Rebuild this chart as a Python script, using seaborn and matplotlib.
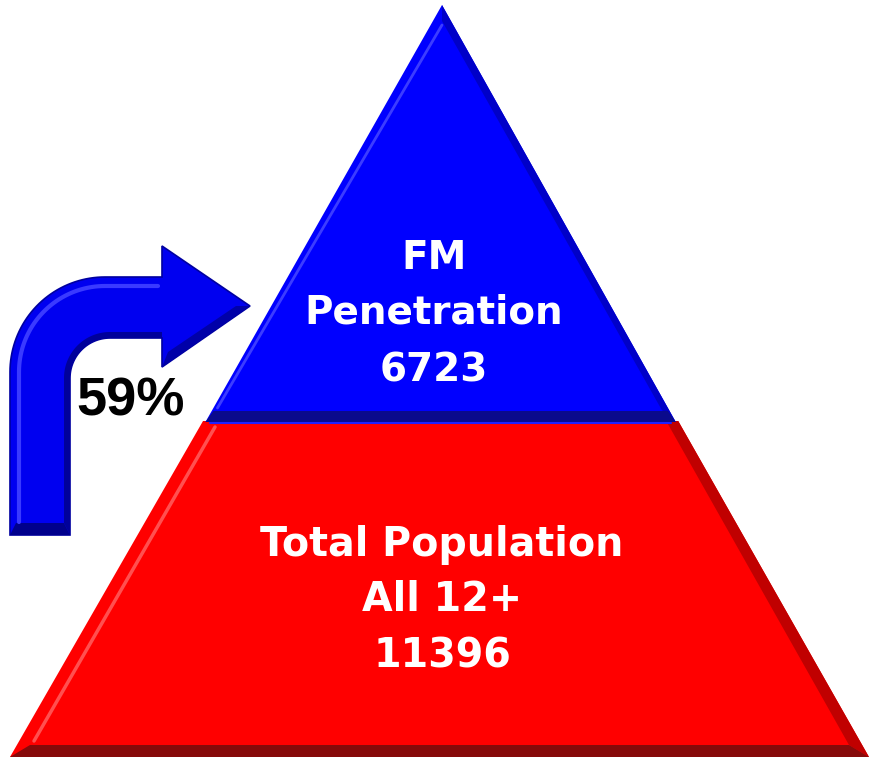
import numpy as np
import matplotlib
matplotlib.use("Agg")
import matplotlib.pyplot as plt
from matplotlib.patches import Polygon
import seaborn as sns

# Data shown on the pyramid
top_lines = ["FM", "Penetration"]
bottom_lines = ["Total Population", "All 12+"]
counts = [6723, 11396]
share_label = "59%"
level_colors = ["#0000ff", "#ff0000"]
shade_colors = ["#0a0a8c", "#860a0a"]

sns.set_theme(style="white")
plt.rcParams["font.family"] = ["DejaVu Sans"]

W, H = 869, 757
fig = plt.figure(figsize=(W / 100, H / 100), dpi=100)
ax = fig.add_axes([0, 0, 1, 1])
ax.set_xlim(0, W)
ax.set_ylim(H, 0)
ax.axis("off")

# Pyramid layout (pixel space)
apex_x, apex_y = 442, 5
split_y = 422
base_y = 757
base_left, base_right = 10, 869


def edge_x(y, side):
    # x on left/right edge of pyramid at height y
    end = base_left if side == "l" else base_right
    return apex_x + (end - apex_x) * (y - apex_y) / (base_y - apex_y)


# bottom trapezoid (red), drawn first so the blue sits on top
low_top = split_y - 1
bot = [(edge_x(low_top, "l"), low_top), (edge_x(low_top, "r"), low_top), (base_right, base_y), (base_left, base_y)]
ax.add_patch(Polygon(bot, closed=True, fc=level_colors[1], ec="none"))
ax.add_patch(Polygon([(bot[1][0], low_top), (base_right, base_y), (base_right - 20, base_y - 12), (bot[1][0] - 12, low_top)],
                     closed=True, fc="#c00000", ec="none"))
ax.add_patch(Polygon([(base_left, base_y), (base_right, base_y), (base_right - 20, base_y - 12), (base_left + 20, base_y - 12)],
                     closed=True, fc=shade_colors[1], ec="none"))
ax.plot([bot[0][0] + 12, base_left + 24], [low_top + 6, base_y - 16], color="#ff5050", lw=2.5, solid_capstyle="round")

# top triangle (blue)
top = [(apex_x, apex_y), (edge_x(split_y, "r") - 3, split_y), (edge_x(split_y, "l") + 3, split_y)]
ax.add_patch(Polygon(top, closed=True, fc=level_colors[0], ec="none"))
ax.add_patch(Polygon([(apex_x, apex_y), (top[1][0], split_y), (top[1][0] - 14, split_y - 12), (apex_x, apex_y + 16)],
                     closed=True, fc="#0000c8", ec="none"))
band = 11
ax.add_patch(Polygon([(top[2][0], split_y), (top[1][0], split_y),
                      (top[1][0] - 8, split_y - band), (top[2][0] + 8, split_y - band)],
                     closed=True, fc=shade_colors[0], ec="none"))
ax.plot([top[2][0] + 5, top[1][0] - 5], [split_y + 0.5, split_y + 0.5], color="#2020ff", lw=1.5)
ax.plot([top[2][0] + 12, apex_x], [split_y - 14, apex_y + 20], color="#3c3cff", lw=2, solid_capstyle="round")

# curved arrow
t = np.linspace(0, np.pi / 2, 40)
outer = np.column_stack([105 - 95 * np.cos(t), 372 - 95 * np.sin(t)])
inner = np.column_stack([110 - 40 * np.cos(t[::-1]), 378 - 40 * np.sin(t[::-1])])
inner_wide = np.column_stack([110 - 46 * np.cos(t), 378 - 46 * np.sin(t)])
arrow = np.vstack([[[10, 535]], outer, [[162, 277], [162, 246], [250, 306], [162, 367], [162, 338]],
                   inner, [[70, 535]]])
ax.add_patch(Polygon(arrow, closed=True, fc="#0000f0", ec="#0000a0", lw=1.2))
# darker bevel along the inner edge
bevel = np.vstack([[[162, 338]], inner, [[70, 535], [64, 523]], inner_wide, [[162, 332]]])
ax.add_patch(Polygon(bevel, closed=True, fc="#00009a", ec="none"))
# light highlight along the outer edge
hl = np.column_stack([105 - 86 * np.cos(t), 372 - 86 * np.sin(t)])
hl = np.vstack([[[19, 522]], hl, [[158, 286]]])
ax.plot(hl[:, 0], hl[:, 1], color="#3a3aff", lw=3)
ax.add_patch(Polygon([(10, 535), (70, 535), (64, 523), (16, 523)], closed=True, fc="#00008c", ec="none"))
ax.add_patch(Polygon([(162, 367), (250, 306), (236, 306), (168, 352)], closed=True, fc="#0000a8", ec="none"))

# labels
for txt, y in zip(top_lines + [str(counts[0])], [258, 313, 370]):
    ax.text(434, y, txt, color="white", fontsize=28, fontweight="bold", ha="center", va="center")
for txt, y in zip(bottom_lines + [str(counts[1])], [545, 600, 656]):
    ax.text(442, y, txt, color="white", fontsize=28.5, fontweight="bold", ha="center", va="center")
ax.text(131, 401, share_label, color="black", fontsize=39, fontweight="bold",
        ha="center", va="center", family=["Liberation Sans", "DejaVu Sans"])

fig.savefig("out.png", dpi=100)
